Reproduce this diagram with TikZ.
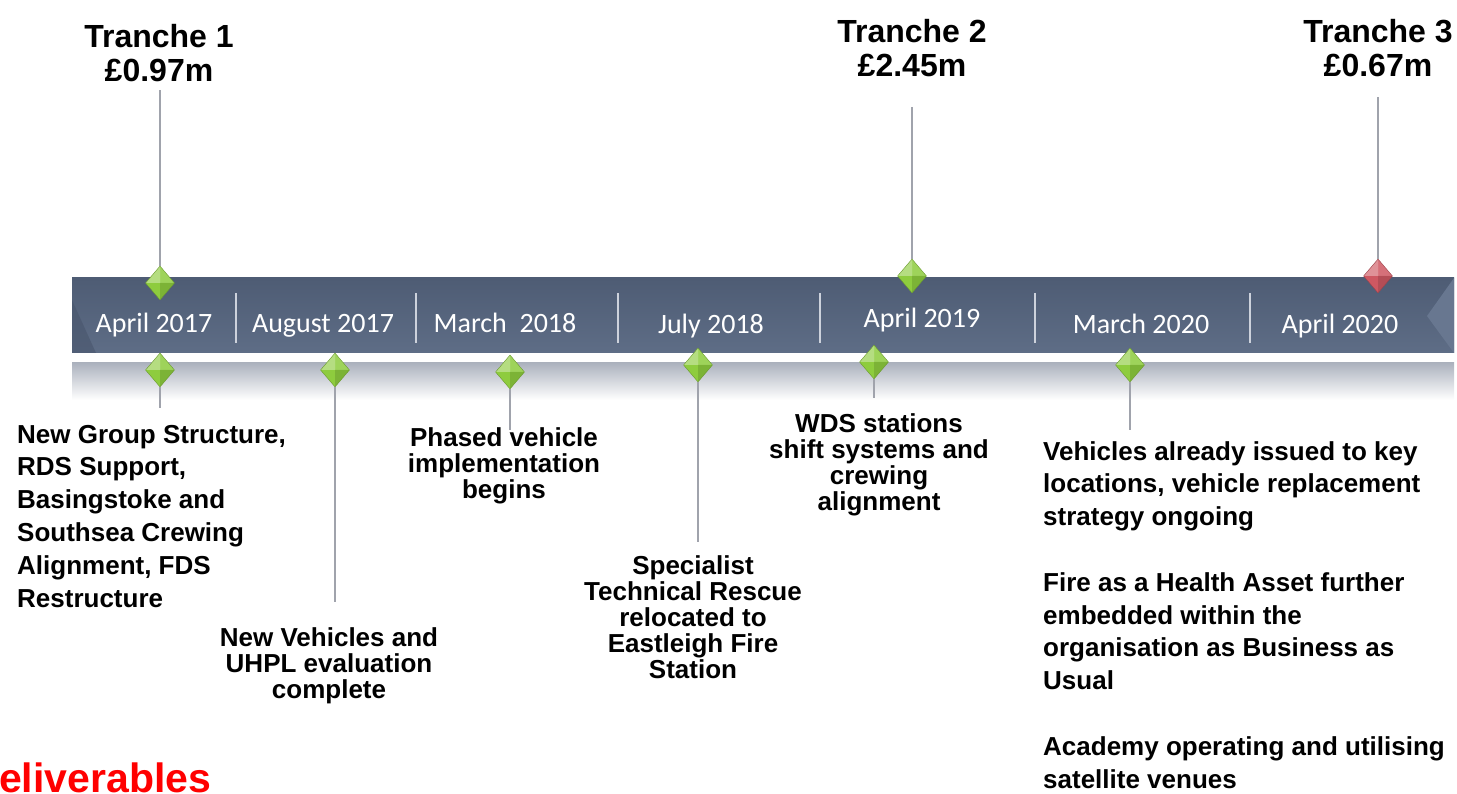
\documentclass[tikz,border=0pt]{standalone}
\usepackage{fontspec}
\setmainfont{Liberation Sans}
\newfontfamily\datefont{Carlito}
\usetikzlibrary{shapes.geometric}

\definecolor{bartop}{RGB}{78,92,116}
\definecolor{barbot}{RGB}{94,109,134}
\definecolor{bevellight}{RGB}{104,119,144}
\definecolor{beveldark}{RGB}{72,85,108}
\definecolor{sepline}{RGB}{205,210,220}
\definecolor{stemgray}{RGB}{160,163,172}
\definecolor{shelfgray}{RGB}{172,178,190}
\definecolor{gemgreen}{RGB}{142,204,62}
\definecolor{gemred}{RGB}{206,88,98}
\definecolor{delivred}{RGB}{255,0,0}

\tikzset{
  gem/.style={diamond, minimum width=29, minimum height=34, inner sep=0pt,
    fill=#1, draw=#1!75!black, line width=0.4pt,
    path picture={
      \fill[white,opacity=.35] (path picture bounding box.center) -- (path picture bounding box.west) -- (path picture bounding box.north) -- cycle;
      \fill[white,opacity=.15] (path picture bounding box.center) -- (path picture bounding box.north) -- (path picture bounding box.east) -- cycle;
      \fill[black,opacity=.12] (path picture bounding box.center) -- (path picture bounding box.east) -- (path picture bounding box.south) -- cycle;
    }},
  stem/.style={draw=stemgray, line width=1.8pt},
  sepbar/.style={draw=sepline, line width=1.6pt},
  datelbl/.style={text=white, font=\datefont\fontsize{28}{30}\selectfont, inner sep=0pt, anchor=base},
  tranche/.style={font=\bfseries\fontsize{32}{34}\selectfont, align=center, inner sep=0pt, anchor=base},
  notec/.style={font=\bfseries\fontsize{26}{26}\selectfont, align=center, inner sep=0pt, anchor=base},
  notel/.style={font=\bfseries\fontsize{26}{32.8}\selectfont, align=left, inner sep=0pt, anchor=base west}
}

\begin{document}
\begin{tikzpicture}[x=1pt,y=1pt,yscale=-1,xscale=1]
\useasboundingbox (0,0) rectangle (1457,794);

%Shape: timeline bar
\shade [top color=bartop, bottom color=barbot] (72,278) rectangle (1454,353);
\fill [beveldark, opacity=.6] (72,300) -- (96,353) -- (72,353) -- cycle;
\fill [bevellight] (1454,278) -- (1427,316) -- (1454,353) -- cycle;
%Shape: shelf under the bar
\shade [top color=shelfgray, bottom color=white] (72,363) rectangle (1454,400);

%Straight Lines: separators
\foreach \sx in {236,416,618,820,1035,1250}
  \draw [sepbar] (\sx,293) -- (\sx,343);

% Text Node: dates
\node [datelbl] (dA) at (154,333) {April 2017};
\node [datelbl] (dB) at (323,333) {August 2017};
\node [datelbl] (dC) at (505,333) {March\ \ 2018};
\node [datelbl] (dD) at (711,334) {July 2018};
\node [datelbl] (dE) at (922,328) {April 2019};
\node [datelbl] (dF) at (1141,334) {March 2020};
\node [datelbl] (dG) at (1340,334) {April 2020};

%Shape: diamonds
\node [gem=gemgreen] (tr1) at (160,283) {};
\node [gem=gemgreen] (tr2) at (912,276) {};
\node [gem=gemred] (tr3) at (1378,276) {};
\node [gem=gemgreen] (ms1) at (160,370) {};
\node [gem=gemgreen] (ms2) at (335,370) {};
\node [gem=gemgreen] (ms3) at (510,372) {};
\node [gem=gemgreen] (ms4) at (698,365) {};
\node [gem=gemgreen] (ms5) at (874,362) {};
\node [gem=gemgreen] (ms6) at (1130,365) {};

% free ends of the stems
\coordinate (up1) at (160,90);
\coordinate (up2) at (912,107);
\coordinate (up3) at (1378,97);
\coordinate (lo1) at (160,408);
\coordinate (lo2) at (335,602);
\coordinate (lo3) at (510,430);
\coordinate (lo4) at (698,542);
\coordinate (lo5) at (874,398);
\coordinate (lo6) at (1130,430);

%Straight Lines: stems
\draw [stem] (up1) -- (tr1);
\draw [stem] (up2) -- (tr2);
\draw [stem] (up3) -- (tr3);
\draw [stem] (ms1) -- (lo1);
\draw [stem] (ms2) -- (lo2);
\draw [stem] (ms3) -- (lo3);
\draw [stem] (ms4) -- (lo4);
\draw [stem] (ms5) -- (lo5);
\draw [stem] (ms6) -- (lo6);

% Text Node
\node [tranche] (tA) at (159,82) {Tranche 1\\\pounds0.97m};
% Text Node
\node [tranche] (tB) at (912,77) {Tranche 2\\\pounds2.45m};
% Text Node
\node [tranche] (tC) at (1378,77) {Tranche 3\\\pounds0.67m};

% Text Node
\node [notel] (nA) at (17,607) {New Group Structure,\\RDS Support,\\Basingstoke and\\Southsea Crewing\\Alignment, FDS\\Restructure};
% Text Node
\node [notec] (nB) at (329,698) {New Vehicles and\\UHPL evaluation\\complete};
% Text Node
\node [notec] (nC) at (504,498) {Phased vehicle\\implementation\\begins};
% Text Node
\node [notec] (nD) at (693,678) {Specialist\\Technical Rescue\\relocated to\\Eastleigh Fire\\Station};
% Text Node
\node [notec] (nE) at (879,510) {WDS stations\\shift systems and\\crewing\\alignment};
% Text Node
\node [notel] (nF) at (1043,788) {Vehicles already issued to key\\locations, vehicle replacement\\strategy ongoing\\[32.8pt]Fire as a Health Asset further\\embedded within the\\organisation as Business as\\Usual\\[32.8pt]Academy operating and utilising\\satellite venues};
% Text Node
\node [font=\bfseries\fontsize{41}{41}\selectfont, text=delivred, inner sep=0pt, anchor=base west] (nG) at (-1,792) {eliverables};

\end{tikzpicture}
\end{document}
